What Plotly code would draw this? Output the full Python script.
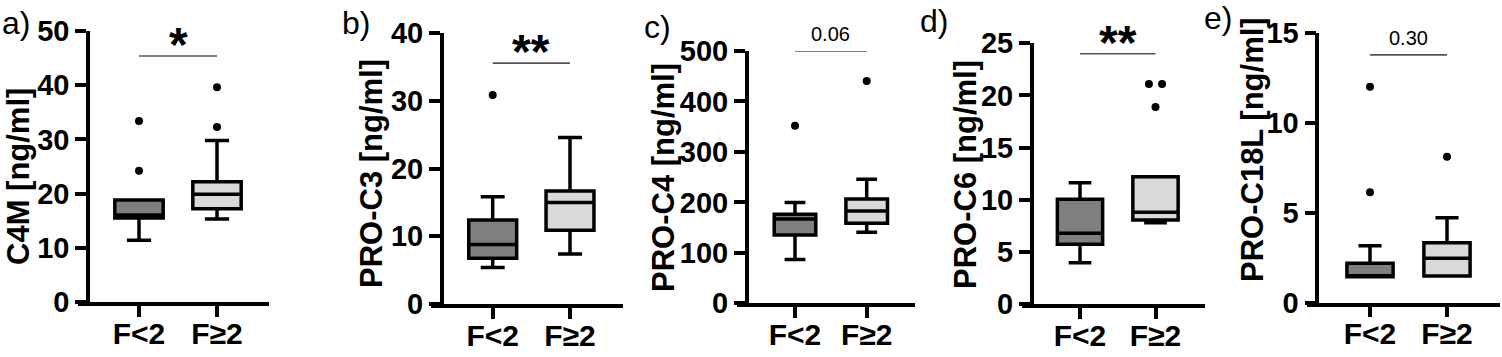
import plotly.graph_objects as go

W, H = 1502, 357

# ---------------- data ----------------
groups = ["F<2", "F≥2"]
panel_letters = ["a)", "b)", "c)", "d)", "e)"]
y_titles = ["C4M [ng/ml]", "PRO-C3 [ng/ml]", "PRO-C4 [ng/ml]", "PRO-C6 [ng/ml]", "PRO-C18L [ng/ml]"]
y_max = [50, 40, 500, 25, 15]
y_dtick = [10, 10, 100, 5, 5]
sig_labels = ["*", "**", "0.06", "**", "0.30"]
sig_level = [45.4, 35.6, 500, 24.0, 13.8]

# box stats per panel: [F<2, F>=2]
lower_whisker = [[11.4, 15.3], [5.4, 7.4], [87, 140.7], [3.96, 7.8], [1.45, 1.49]]
q1_vals = [[15.5, 17.2], [6.75, 10.9], [135.4, 158.5], [5.72, 8.05], [1.45, 1.49]]
median_vals = [[16.05, 19.9], [8.8, 15.0], [167, 183], [6.78, 8.79], [1.5, 2.47]]
q3_vals = [[18.8, 22.2], [12.4, 16.7], [176.4, 206.7], [10.04, 12.2], [2.19, 3.34]]
upper_whisker = [[18.8, 29.8], [15.85, 24.6], [200, 246], [11.63, 12.2], [3.17, 4.73]]

# outliers per panel: (group index, value, horizontal jitter)
outlier_group = [[0, 0, 1, 1], [0], [0, 1], [1, 1, 1], [0, 0, 1]]
outlier_value = [[24.2, 33.4, 32.3, 39.6], [30.9], [352, 440.5], [21.1, 21.1, 18.9], [12.03, 6.15, 8.13]]
outlier_jitter = [[0, 0, 0, 0], [0], [0, 0], [-0.087, 0.087, 0], [0, 0, 0]]

# ---------------- layout geometry (pixels) ----------------
geo = [
    # L, R, cat0, cat1, yaxis_x, ybottom, ytop
    (78, 269, 139, 217, 88, 302, 31),
    (431, 623, 492.7, 570, 441.7, 304, 33.3),
    (737, 915, 795, 866.7, 746.7, 303.3, 51),
    (1022, 1205, 1080, 1155.5, 1031.7, 304, 43.3),
    (1307, 1500, 1370, 1447, 1317.3, 302.7, 33.3),
]
box_w = [0.62, 0.62, 0.58, 0.6, 0.6]
title_pos = [(18, 177), (371, 174), (663, 178), (965, 175), (1252, 150)]
letter_pos = [(0, 3), (340, 3), (642, 7), (918, 1), (1202, -2)]

dark = "#7f7f7f"
light = "#d9d9d9"
fills = [dark, light]
FONT = "Liberation Sans, Arial, Helvetica, sans-serif"
LW = 3.5

fig = go.Figure()
layout = dict(
    template="none",
    width=W, height=H, margin=dict(l=0, r=0, t=0, b=0, pad=0, autoexpand=False),
    plot_bgcolor="white", paper_bgcolor="white", showlegend=False,
    font=dict(family=FONT, color="black"),
)
annotations = []
shapes = []

for p in range(5):
    L, R, c0, c1, yx, yb, yt = geo[p]
    d = c1 - c0
    xr = [(L - c0) / d, (R - c0) / d]
    sfx = "" if p == 0 else str(p + 1)
    xa, ya = "x" + sfx, "y" + sfx
    layout["xaxis" + sfx] = dict(
        domain=[L / W, R / W], range=xr, anchor=ya, automargin=False,
        tickvals=[0, 1], ticktext=groups, ticklabelstandoff=-9,
        showline=True, linewidth=LW, linecolor="black", mirror=False,
        ticks="outside", ticklen=11, tickwidth=LW, tickcolor="black",
        showgrid=False, zeroline=False, fixedrange=True,
        tickfont=dict(family=FONT, size=30, color="black", weight="bold"),
    )
    tv = list(range(0, y_max[p] + 1, y_dtick[p]))
    layout["yaxis" + sfx] = dict(
        domain=[1 - yb / H, 1 - yt / H], range=[0, y_max[p]],
        anchor="free", position=yx / W, automargin=False,
        tickvals=tv, ticktext=[str(v) for v in tv],
        showline=True, linewidth=LW, linecolor="black",
        ticks="outside", ticklen=11, tickwidth=LW, tickcolor="black",
        showgrid=False, zeroline=False, fixedrange=True,
        tickfont=dict(family=FONT, size=29, color="black", weight="bold"),
    )
    for g in range(2):
        fig.add_trace(go.Box(
            x=[g], q1=[q1_vals[p][g]], median=[median_vals[p][g]], q3=[q3_vals[p][g]],
            lowerfence=[lower_whisker[p][g]], upperfence=[upper_whisker[p][g]],
            width=box_w[p], whiskerwidth=0.5, boxpoints=False,
            fillcolor=fills[g], line=dict(color="black", width=LW),
            xaxis=xa, yaxis=ya, hoverinfo="skip",
        ))
    ox = [outlier_group[p][i] + outlier_jitter[p][i] for i in range(len(outlier_value[p]))]
    fig.add_trace(go.Scatter(
        x=ox, y=outlier_value[p], mode="markers",
        marker=dict(color="black", size=8), xaxis=xa, yaxis=ya,
        hoverinfo="skip", cliponaxis=False,
    ))
    # significance bar
    shapes.append(dict(type="line", xref=xa, yref=ya, x0=0, x1=1,
                       y0=sig_level[p], y1=sig_level[p],
                       line=dict(color="#555555", width=1.6)))
    is_star = sig_labels[p].startswith("*")
    annotations.append(dict(
        xref=xa, yref=ya, x=0.5, y=sig_level[p], text=sig_labels[p],
        showarrow=False, xanchor="center", yanchor="bottom",
        yshift=-17 if is_star else 4,
        font=dict(family=FONT, size=48 if is_star else 20, color="black",
                  weight="bold" if is_star else "normal"),
    ))
    # y title
    tx, ty = title_pos[p]
    annotations.append(dict(
        xref="paper", yref="paper", x=tx / W, y=1 - ty / H, text=y_titles[p],
        textangle=-90, showarrow=False, xanchor="center", yanchor="middle",
        font=dict(family=FONT, size=31, color="black", weight="bold"),
    ))
    # panel letter
    lx, ly = letter_pos[p]
    annotations.append(dict(
        xref="paper", yref="paper", x=lx / W, y=1 - ly / H, text=panel_letters[p],
        showarrow=False, xanchor="left", yanchor="top",
        font=dict(family=FONT, size=32, color="black"),
    ))

layout["annotations"] = annotations
layout["shapes"] = shapes
fig.update_layout(**layout)

fig.write_html("out.html", config={"displayModeBar": False},
               post_script="document.body.style.margin='0';")
